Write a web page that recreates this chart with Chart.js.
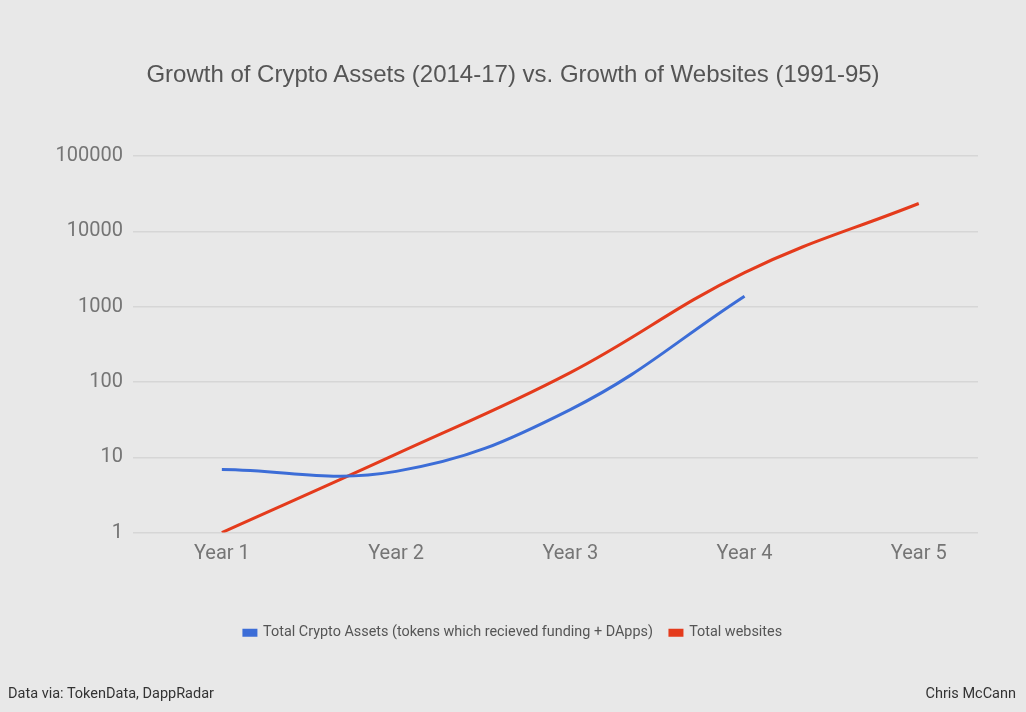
<!DOCTYPE html>
<html>
<head>
<meta charset="utf-8">
<script src="https://cdn.jsdelivr.net/npm/chart.js@4.4.0/dist/chart.umd.min.js"></script>
<style>
    body { margin: 0; background: #e8e8e8; }
    #wrap { position: relative; width: 1026px; height: 712px; }
    #title { position: absolute; top: 60px; left: 0; width: 1026px; text-align: center;
             font: 24px 'Liberation Sans', Arial, sans-serif; color: #555; }
    .foot { position: absolute; top: 685px; font: 14.5px Roboto, sans-serif; color: #333; }
</style>
</head>
<body>
<div id="wrap">
    <canvas id="Line" width="1026" height="712"></canvas>
    <div id="title">Growth of Crypto Assets (2014-17) vs. Growth of Websites (1991-95)</div>
    <div class="foot" style="left:8px;">Data via: TokenData, DappRadar</div>
    <div class="foot" style="right:10px;">Chris McCann</div>
</div>
<script>
const years = ["Year 1", "Year 2", "Year 3", "Year 4", "Year 5"]; // Eje X
const cryptoAssets = [6.9, 6.5, 43, 1375]; // sin dato para Year 5
const websites = [1, 11, 133, 2830, 23400];
const yTicks = [1, 10, 100, 1000, 10000, 100000];

const cryptoLabel = "Total Crypto Assets (tokens which recieved funding + DApps)";
const webLabel = "Total websites";

// puntos {x, y} usando el índice de la categoría
function toPoints(values) {
    return values.map((v, i) => ({ x: i + 1, y: v }));
}

function fnLine() {
    const ctx = document.querySelector("#Line");
    new Chart(ctx, {
        type: "line",
        data: {
            datasets: [
                {
                    label: cryptoLabel,
                    data: toPoints(cryptoAssets),
                    borderColor: "#3c6dd7",
                    backgroundColor: "#3c6dd7",
                    borderWidth: 3,
                    tension: 0.4,
                    pointRadius: 0
                },
                {
                    label: webLabel,
                    data: toPoints(websites),
                    borderColor: "#e43b1c",
                    backgroundColor: "#e43b1c",
                    borderWidth: 3,
                    tension: 0.4,
                    pointRadius: 0
                }
            ]
        },
        options: {
            responsive: false,
            animation: false,
            layout: { padding: { left: 0, right: 0, top: 156, bottom: 62 } },
            plugins: {
                legend: {
                    position: "bottom",
                    labels: {
                        color: "#555",
                        font: { family: "Roboto, sans-serif", size: 14.4 },
                        boxWidth: 12,
                        boxHeight: 5,
                        padding: 17
                    }
                },
                tooltip: { enabled: false }
            },
            scales: {
                x: {
                    type: "linear",
                    min: 0.49,
                    max: 5.34,
                    afterFit: (scale) => { scale.height = 76; },
                    grid: { display: false },
                    border: { display: false },
                    ticks: {
                        stepSize: 1,
                        includeBounds: false,
                        color: "#757575",
                        padding: 1,
                        font: { family: "Roboto, sans-serif", size: 20 },
                        callback: (v) => years[v - 1] || ""
                    }
                },
                y: {
                    type: "logarithmic",
                    min: 1,
                    max: 100000,
                    afterFit: (scale) => { scale.width = 133; },
                    afterBuildTicks: (scale) => {
                        scale.ticks = yTicks.map(v => ({ value: v }));
                    },
                    grid: { color: "#d6d6d6", lineWidth: 1.5, drawTicks: false },
                    border: { display: false },
                    ticks: {
                        color: "#757575",
                        padding: 10,
                        font: { family: "Roboto, sans-serif", size: 20 },
                        callback: (v) => String(v)
                    }
                },
                // margen derecho vacío para centrar la leyenda en el lienzo
                yRight: {
                    position: "right",
                    afterFit: (scale) => { scale.width = 48; },
                    grid: { display: false },
                    border: { display: false },
                    ticks: { display: false }
                }
            }
        }
    });
}

fnLine();
</script>
</body>
</html>
